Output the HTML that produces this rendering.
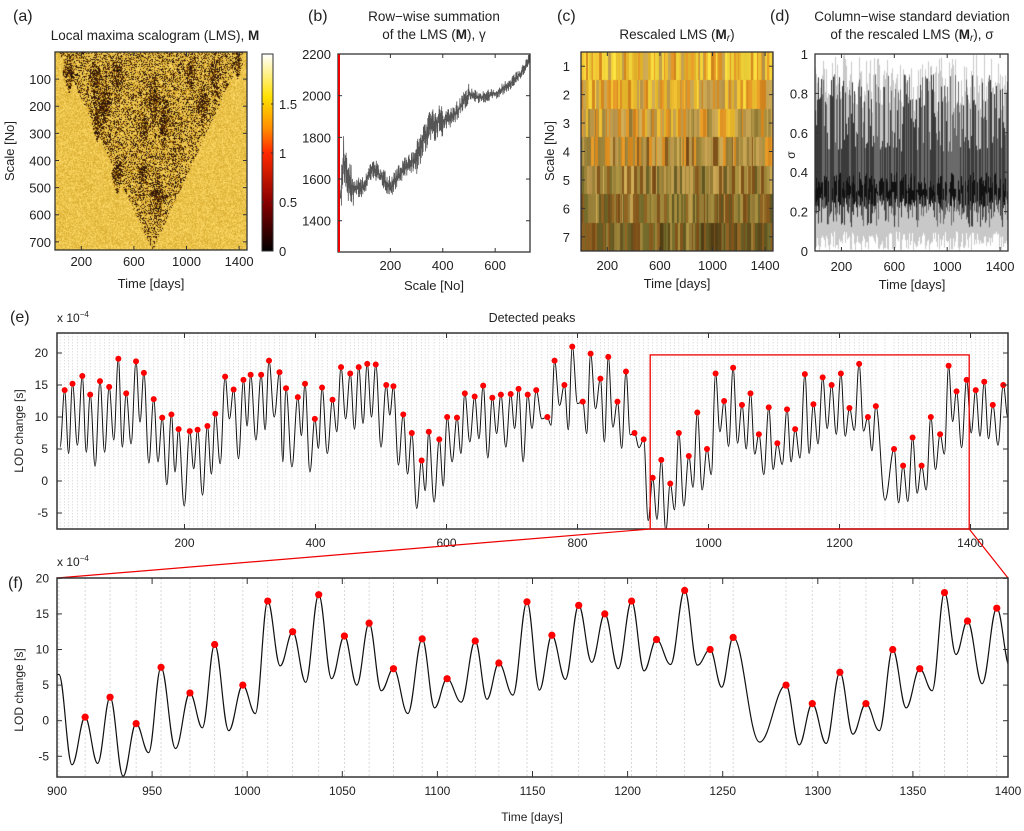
<!DOCTYPE html>
<html><head><meta charset="utf-8">
<style>
body{margin:0;width:1024px;height:831px;position:relative;background:#fff;overflow:hidden;font-family:"Liberation Sans",sans-serif}
canvas{position:absolute}
svg{position:absolute;left:0;top:0}
</style></head>
<body>
<canvas id="ca" style="left:55px;top:52px" width="192" height="198"></canvas>
<canvas id="cc" style="left:581px;top:52px" width="192" height="199"></canvas>
<canvas id="cd" style="left:815px;top:54px" width="193" height="197"></canvas>
<svg id="s" width="1024" height="831" xmlns="http://www.w3.org/2000/svg">
<defs>
<linearGradient id="hot" x1="0" y1="1" x2="0" y2="0">
<stop offset="0" stop-color="#000"/><stop offset="0.25" stop-color="#8a0000"/><stop offset="0.5" stop-color="#ff2a00"/><stop offset="0.62" stop-color="#ff8c00"/><stop offset="0.78" stop-color="#ffe000"/><stop offset="1" stop-color="#fff"/>
</linearGradient>
<clipPath id="clipE"><rect x="57" y="333" width="951" height="196"/></clipPath>
<clipPath id="clipF"><rect x="57" y="578" width="951" height="199"/></clipPath>
</defs>
</svg>
<script>
// ---- LOD data (peaks and troughs, units 1e-4 s) ----
const peakT=[17,29,44,56,71,85,99,111,126,138,153,166,180,191,208,220,235,247,262,275,290,301,317,329,345,355,373,384,399,410,426,439,453,466,479,492,508,519,534,547,562,573,589,601,616,628,643,656,670,683,698,710,724,737,754,765,780,792,808,820,835,847,861,874,887,901,
914.8,927.9,941.6,954.7,969.9,982.9,997.7,1010.8,1023.9,1037.6,1051.1,1064.1,1076.9,1092.0,1105.1,1119.9,1132.3,1147.1,1160.2,1174.3,1188.0,1202.1,1215.2,1230.0,1243.4,1255.5,1283.3,1297.1,1311.6,1325.3,1339.4,1353.6,1366.6,1378.7,1394.1,1408,1421,1434,1450];
const peakV=[14.2,15.2,16.4,13.5,15.6,14.7,19.1,13.7,18.7,16.9,12.8,9.9,10.4,8.1,7.8,8.0,8.6,10.5,16.3,14.3,15.8,16.6,16.6,18.8,17.0,14.5,13.1,15.2,9.7,14.6,12.7,17.8,16.8,17.8,18.3,18.2,15.0,14.8,10.4,7.5,3.2,7.7,6.5,10.0,9.9,13.7,13.2,14.9,13.0,13.5,13.6,14.4,13.5,14.2,10.0,18.8,15.0,21.0,12.4,19.9,16.0,19.4,12.4,17.1,7.5,6.5,
0.5,3.3,-0.4,7.5,3.9,10.7,5.0,16.8,12.5,17.7,11.9,13.7,7.3,11.5,5.9,11.2,8.1,16.7,12.0,16.2,15.0,16.8,11.4,18.3,10.0,11.7,5.0,2.4,6.8,2.4,10.0,7.3,18.0,14.0,15.8,14.2,15.5,11.9,15.0];
const troughV=[5.3,4.3,5.6,4.5,2.3,4.5,6.4,5.3,5.8,9.2,2.8,3.0,-0.6,1.4,-3.9,1.9,-2.2,1.1,2.7,9.7,3.5,8.6,6.4,8.0,10.0,3.0,2.2,7.1,1.4,5.1,4.3,7.7,9.7,8.1,9.0,10.0,5.3,10.3,2.5,1.1,-4.3,-1.5,-3.3,-0.8,3.0,4.3,6.1,6.6,3.6,7.4,5.3,8.2,3.0,8.2,9.7,8.7,11.8,8.0,12.1,7.4,11.3,6.1,8.4,5.1,7.2,5.2,
-6.2,-6.0,-7.8,-4.5,-3.9,-1.0,-1.4,1.0,7.7,5.4,5.9,5.0,4.2,1.0,1.8,2.6,3.0,3.6,4.3,5.8,8.2,7.3,7.0,7.9,7.8,4.7,-3.0,-3.4,-3.2,-1.9,-1.4,1.8,4.2,9.3,5.2,7.5,7.0,6.6,5.6];
const trailV=10;
const eTicksX=[200,400,600,800,1000,1200,1400];
const eTicksY=[-5,0,5,10,15,20];
const fTicksX=[900,950,1000,1050,1100,1150,1200,1250,1300,1350,1400];
const fTicksY=[-5,0,5,10,15,20];
const zoomBox=[911,1398,19.7];
// panel b trend (scale, sum)
const bScale=[0,10,20,30,40,60,100,130,160,200,250,300,330,360,400,430,470,500,540,600,650,700,733];
const bSum=[1600,1500,1720,1640,1580,1560,1560,1660,1620,1560,1650,1700,1800,1860,1880,1890,1950,2010,1990,2010,2050,2110,2190];
// panel a blobs (time, scale, half-width, half-height)
const blobT=[102,305,470,369,318,470,750,827,674,661,776,1030,1209,1120,1387];
const blobS=[72,97,90,189,263,447,177,263,275,447,532,78,90,189,42];
const blobW=[40,45,40,70,35,40,60,45,35,35,55,35,40,45,30];
const blobH=[70,90,90,80,60,70,90,80,60,60,80,60,70,70,50];

const NS="http://www.w3.org/2000/svg";
const svg=document.getElementById('s');
let seed=12345;
function rnd(){seed=(seed*16807)%2147483647;return seed/2147483647;}
function el(tag,attrs,parent){const e=document.createElementNS(NS,tag);for(const k in attrs)e.setAttribute(k,attrs[k]);(parent||svg).appendChild(e);return e;}
function txt(x,y,s,size,anchor,name,extra){const t=el('text',Object.assign({x:x,y:y,'font-size':size,'text-anchor':anchor||'middle',fill:'#222','font-family':'Liberation Sans, sans-serif'},extra||{}));t.textContent=s;


return t;}
function box(x0,y0,x1,y1,name,sw){const r=el('rect',{x:x0,y:y0,width:x1-x0,height:y1-y0,fill:'none',stroke:'#333','stroke-width':sw||1.3});


return r;}
function tick(x1,y1,x2,y2){const l=el('line',{x1:x1,y1:y1,x2:x2,y2:y2,stroke:'#333','stroke-width':1});

}

// ===== Panel (a) =====
(function(){
 const c=document.getElementById('ca').getContext('2d');const W=192,H=198;const img=c.createImageData(W,H);
 for(let py=0;py<H;py++)for(let px=0;px<W;px++){
  const t=px/W*1460,s=py/H*730;let p=0;
  const le=30+s/730*710,re=1430-s/730*690;
  if(t>le&&t<re&&s<725)p=0.38;
  for(let i=0;i<blobT.length;i++){const d=Math.abs(t-blobT[i])/(blobW[i]*1.25)+Math.abs(s-blobS[i])/(blobH[i]*1.2);if(d<1)p=Math.max(p,0.95*(1-d*0.4));}
  let r,g,b;const n=rnd();
  if(rnd()<p){const v=rnd();r=v<0.7?15+v*110:150;g=v<0.7?8+v*50:100;b=10;}
  else{r=215+n*40;g=170+n*50;b=45+n*60;}
  const k=(py*W+px)*4;img.data[k]=r;img.data[k+1]=g;img.data[k+2]=b;img.data[k+3]=255;}
 c.putImageData(img,0,0);
})();
box(55,52,247,250,'lms-plot-frame');
const ax=t=>55+t*192/1460, ay=s=>52+s*198/730;
[200,600,1000,1400].forEach(v=>{tick(ax(v),250,ax(v),246);tick(ax(v),52,ax(v),56);txt(ax(v),266,String(v),13,'middle','a-x-tick-label');});
[100,200,300,400,500,600,700].forEach(v=>{tick(55,ay(v),59,ay(v));tick(247,ay(v),243,ay(v));txt(51,ay(v)+5,String(v),13,'end','a-y-tick-label');});
txt(151,288,'Time [days]',13,'middle','a-x-axis-title');
txt(14,151,'Scale [No]',13,'middle','a-y-axis-title',{transform:'rotate(-90 14 151)'});
txt(13,21,'(a)',16,'start','panel-a-label');
(function(){const t=txt(155,40,'Local maxima scalogram (LMS), ',13.5,'middle','a-title');const b=el('tspan',{'font-weight':'bold'},t);b.textContent='M';})();
const cb=el('rect',{x:262,y:54,width:11,height:197,fill:'url(#hot)',stroke:'#333','stroke-width':1});


[[0,251],[0.5,202],[1,153],[1.5,104]].forEach(a=>{tick(262,a[1],264,a[1]);tick(273,a[1],271,a[1]);txt(279,a[1]+5,String(a[0]),13,'start','colorbar-tick-label');});

// ===== Panel (b) =====
const bx=s=>338+s*192/733, by=v=>252-(v-1250)*198/950;
(function(){let d='';let k=1;let sg=1;for(let s=1;s<=733;s+=1.2){while(k<bScale.length-1&&s>bScale[k])k++;const f=(s-bScale[k-1])/(bScale[k]-bScale[k-1]);let v=bSum[k-1]+f*(bSum[k]-bSum[k-1]);const amp=(s>300&&s<400)?170:(s<60?200:(s>500?60:100));sg=-sg;v+=sg*rnd()*amp*0.5;v=Math.min(2195,v);d+=(d?'L':'M')+bx(s).toFixed(1)+','+by(v).toFixed(1);}
const p=el('path',{d:d,fill:'none',stroke:'#555','stroke-width':0.8});

})();
box(338,54,530,252,'b-plot-frame');
const rl=el('line',{x1:339,y1:54,x2:339,y2:252,stroke:'#e00','stroke-width':2});


[200,400,600].forEach(v=>{tick(bx(v),252,bx(v),248);tick(bx(v),54,bx(v),58);txt(bx(v),270,String(v),13,'middle','b-x-tick-label');});
[1400,1600,1800,2000,2200].forEach(v=>{tick(338,by(v),342,by(v));tick(530,by(v),526,by(v));txt(331,by(v)+5,String(v),13,'end','b-y-tick-label');});
txt(434,290,'Scale [No]',13,'middle','b-x-axis-title');
txt(308,21,'(b)',16,'start','panel-b-label');
txt(434,21,'Row\u2212wise summation',13.5,'middle','b-title-line1');
(function(){const t=txt(434,39,'of the LMS (',13.5,'middle','b-title-line2');const b=el('tspan',{'font-weight':'bold'},t);b.textContent='M';const r=el('tspan',{},t);r.textContent='), \u03b3';})();

// ===== Panel (c) =====
(function(){const c=document.getElementById('cc').getContext('2d');const pal=[[245,215,60],[232,185,45],[222,145,35],[195,160,80],[160,135,60],[135,90,30],[110,100,40],[90,70,25]];
 const rh=199/7;for(let r=0;r<7;r++){let x=0;while(x<192){const w=1+Math.floor(rnd()*3);let i=Math.floor(rnd()*3.2+r*0.75);i=Math.min(7,i);const q=pal[i];const n=(rnd()-0.5)*30;c.fillStyle='rgb('+(q[0]+n|0)+','+(q[1]+n|0)+','+(q[2]+n/2|0)+')';c.fillRect(x,Math.round(r*rh),w,Math.ceil(rh)+1);x+=w;}}})();
box(581,52,773,251,'c-plot-frame');
const cx=t=>581+t*192/1460, cy=r=>52+(r-0.5)*199/7;
[200,600,1000,1400].forEach(v=>{tick(cx(v),251,cx(v),247);tick(cx(v),52,cx(v),56);txt(cx(v),270,String(v),13,'middle','c-x-tick-label');});
[1,2,3,4,5,6,7].forEach(v=>{tick(581,cy(v),585,cy(v));tick(773,cy(v),769,cy(v));txt(570,cy(v)+5,String(v),13,'end','c-y-tick-label');});
txt(677,288,'Time [days]',13,'middle','c-x-axis-title');
txt(554,151,'Scale [No]',13,'middle','c-y-axis-title',{transform:'rotate(-90 554 151)'});
txt(557,21,'(c)',16,'start','panel-c-label');
(function(){const t=txt(677,39,'Rescaled LMS (',13.5,'middle','c-title');const b=el('tspan',{'font-weight':'bold'},t);b.textContent='M';const s=el('tspan',{'font-style':'italic','font-size':10,dy:2},t);s.textContent='r';const r=el('tspan',{dy:-2},t);r.textContent=')';})();

// ===== Panel (d) =====
(function(){const c=document.getElementById('cd').getContext('2d');const H=197;const Y=v=>H-v*H;
 for(let x=0;x<193;x++){
  c.fillStyle='#c8c8c8';const lo=rnd()*0.1,hi=0.7+rnd()*0.3;c.fillRect(x,Y(hi),1,(hi-lo)*H);
  c.fillStyle=rnd()<0.5?'#3a3a3a':'#6a6a6a';const lo2=0.12+rnd()*0.15,hi2=0.5+rnd()*0.4;c.fillRect(x,Y(hi2),1,(hi2-lo2)*H);
  if(rnd()<0.7){c.fillStyle='#111';const lo3=0.22+rnd()*0.08,hi3=0.3+rnd()*0.1;c.fillRect(x,Y(hi3),1,(hi3-lo3)*H);}}})();
box(815,54,1008,251,'d-plot-frame');
const dx=t=>815+t*193/1460, dy=v=>251-v*197;
[200,600,1000,1400].forEach(v=>{tick(dx(v),251,dx(v),247);tick(dx(v),54,dx(v),58);txt(dx(v),271,String(v),13,'middle','d-x-tick-label');});
[0,0.2,0.4,0.6,0.8,1].forEach(v=>{tick(815,dy(v),819,dy(v));tick(1008,dy(v),1004,dy(v));txt(808,dy(v)+5,String(v),13,'end','d-y-tick-label');});
txt(912,289,'Time [days]',13,'middle','d-x-axis-title');
txt(795,155,'\u03c3',12,'middle','d-y-axis-title',{transform:'rotate(-90 795 155)'});
txt(770,21,'(d)',16,'start','panel-d-label');
txt(912,21,'Column\u2212wise standard deviation',13.5,'middle','d-title-line1');
(function(){const t=txt(912,39,'of the rescaled LMS (',13.5,'middle','d-title-line2');const b=el('tspan',{'font-weight':'bold'},t);b.textContent='M';const s=el('tspan',{'font-style':'italic','font-size':10,dy:2},t);s.textContent='r';const r=el('tspan',{dy:-2},t);r.textContent='), \u03c3';})();

// ===== LOD curve helpers =====
const pts=[];
for(let i=0;i<peakT.length;i++){const tt=i===0?peakT[0]-7:(peakT[i-1]+peakT[i])/2;pts.push([tt,troughV[i]]);pts.push([peakT[i],peakV[i]]);}
pts.push([peakT[peakT.length-1]+7,trailV]);
function curvePath(X,Y){let d='M'+X(pts[0][0]).toFixed(1)+','+Y(pts[0][1]).toFixed(1);for(let i=1;i<pts.length;i++){const x0=X(pts[i-1][0]),x1=X(pts[i][0]),y0=Y(pts[i-1][1]),y1=Y(pts[i][1]),h=(x1-x0)/2.6;d+='C'+(x0+h).toFixed(1)+','+y0.toFixed(1)+' '+(x1-h).toFixed(1)+','+y1.toFixed(1)+' '+x1.toFixed(1)+','+y1.toFixed(1);}return d;}

// ===== Panel (e) =====
const ex=t=>53.5+0.655*t, ey=v=>481-6.4*v;
const ge=el('g',{'clip-path':'url(#clipE)'});


pts.forEach(p=>{const l=el('line',{x1:ex(p[0]),y1:333,x2:ex(p[0]),y2:529,stroke:'#d4d4d4','stroke-width':0.7,'stroke-dasharray':'1.5,1.5'},ge);

});
const pe=el('path',{d:curvePath(ex,ey),fill:'none',stroke:'#111','stroke-width':1},ge);


peakT.forEach((t,i)=>{const c=el('circle',{cx:ex(t),cy:ey(peakV[i]),r:3,fill:'#f00'},ge);

});
box(57,333,1008,529,'e-plot-frame',1.5);
eTicksX.forEach(v=>{tick(ex(v),529,ex(v),524);tick(ex(v),333,ex(v),338);txt(ex(v),547,String(v),12,'middle','e-x-tick-label');});
eTicksY.forEach(v=>{tick(57,ey(v),62,ey(v));tick(1008,ey(v),1003,ey(v));txt(48,ey(v)+4,String(v),12,'end','e-y-tick-label');});
txt(23,431,'LOD change [s]',12,'middle','e-y-axis-title',{transform:'rotate(-90 23 431)'});
txt(10,322,'(e)',16,'start','panel-e-label');
(function(){const t=txt(57,322,'x 10',12,'start','e-y-exponent');const s=el('tspan',{'font-size':8,dy:-5},t);s.textContent='\u22124';})();
txt(532,322,'Detected peaks',12.5,'middle','e-title');
const zb=el('rect',{x:ex(zoomBox[0]),y:ey(zoomBox[2]),width:ex(zoomBox[1])-ex(zoomBox[0]),height:529-ey(zoomBox[2]),fill:'none',stroke:'#e00','stroke-width':1.3});


[[ex(zoomBox[0]),57],[ex(zoomBox[1]),1008]].forEach(a=>{const l=el('line',{x1:a[0],y1:529,x2:a[1],y2:578,stroke:'#e00','stroke-width':1.2});

});

// ===== Panel (f) =====
const fx=t=>57+(t-900)*1.902, fy=v=>720.7-7.12*v;
const gf=el('g',{'clip-path':'url(#clipF)'});


peakT.forEach(t=>{const l=el('line',{x1:fx(t),y1:578,x2:fx(t),y2:777,stroke:'#cfcfcf','stroke-width':0.8,'stroke-dasharray':'2,2'},gf);

});
const pf=el('path',{d:curvePath(fx,fy),fill:'none',stroke:'#111','stroke-width':1.2},gf);


peakT.forEach((t,i)=>{if(t<905||t>1398)return;const c=el('circle',{cx:fx(t),cy:fy(peakV[i]),r:3.6,fill:'#f00'},gf);

});
box(57,578,1008,777,'f-plot-frame',1.5);
fTicksX.forEach(v=>{tick(fx(v),777,fx(v),771);tick(fx(v),578,fx(v),584);txt(fx(v),795,String(v),12,'middle','f-x-tick-label');});
fTicksY.forEach(v=>{tick(57,fy(v),62,fy(v));tick(1008,fy(v),1003,fy(v));txt(49,fy(v)+4,String(v),12,'end','f-y-tick-label');});
txt(532,821,'Time [days]',12,'middle','f-x-axis-title');
txt(23,690,'LOD change [s]',12,'middle','f-y-axis-title',{transform:'rotate(-90 23 690)'});
txt(8,588,'(f)',16,'start','panel-f-label');
(function(){const t=txt(57,566,'x 10',12,'start','f-y-exponent');const s=el('tspan',{'font-size':8,dy:-5},t);s.textContent='\u22124';})();
</script>
</body></html>
